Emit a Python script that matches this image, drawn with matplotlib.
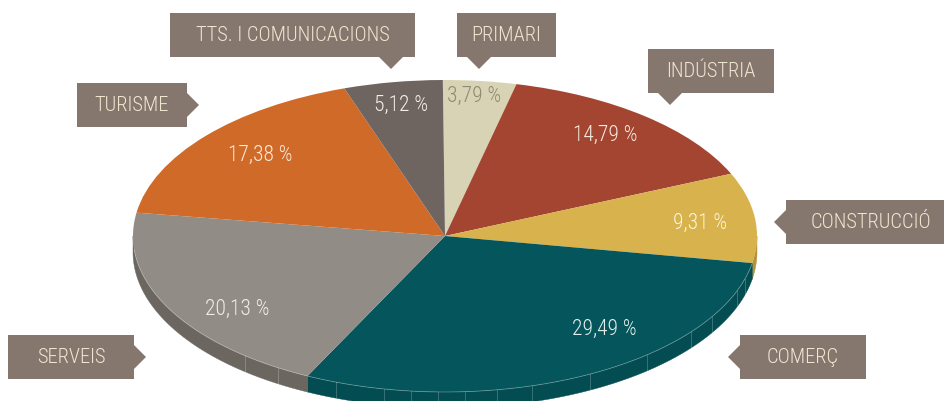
import numpy as np
import matplotlib
matplotlib.use("Agg")
import matplotlib.pyplot as plt
from matplotlib.patches import Polygon

plt.rcParams["font.family"] = ["Roboto Condensed", "DejaVu Sans"]
plt.rcParams["font.weight"] = 300

# Slices, clockwise from the top
sectors = ["PRIMARI", "INDÚSTRIA", "CONSTRUCCIÓ", "COMERÇ", "SERVEIS", "TURISME", "TTS. I COMUNICACIONS"]
shares = [3.79, 14.79, 9.31, 29.49, 20.13, 17.38, 5.12]
top_colors = ["#D8D3B4", "#A34531", "#D8B24C", "#05565C", "#928C87", "#CF6A28", "#6F6560"]
side_colors = ["#B8B393", "#85361F", "#B3923B", "#024C52", "#6C6661", "#A85520", "#5A514C"]
pct_colors = ["#8F8A72", "#F5EBE0", "#FBF3DC", "#E4EEEA", "#F0EDE6", "#FBEBDC", "#F3EEE6"]

# Layout in picture pixels
W, H = 945, 401
cx, cy, rx, ry, depth = 445, 236, 312, 156, 16
start = 90.4
pct_pos = [(474, 96), (605, 135), (700, 223), (604, 329), (237, 309), (260, 155), (401, 105)]
side_ticks = [245, 278, 336, 384, 411, 438, 465, 497, 532, 590, 647, 691, 712, 737, 745]

# box: x0, y0, x1, y1, then pointer side and tip position along it
boxes = {
    "PRIMARI": (457, 13, 556, 57, "down", 479),
    "INDÚSTRIA": (648, 49, 774, 93, "down", 670),
    "CONSTRUCCIÓ": (786, 200, 956, 244, "left", 222),
    "COMERÇ": (740, 335, 866, 379, "left", 357),
    "SERVEIS": (8, 335, 134, 379, "right", 357),
    "TURISME": (77, 83, 187, 127, "right", 105),
    "TTS. I COMUNICACIONS": (170, 13, 415, 57, "down", 391),
}
box_color = "#85766E"
box_text = "#EFE6CF"

fig = plt.figure(figsize=(W / 100, H / 100), dpi=100)
ax = fig.add_axes([0, 0, 1, 1])

# Side wall of the disc, only the front half shows
edges = np.cumsum([0] + shares) * 3.6 + (90 - start)
dy = depth / ry
for i in range(len(shares)):
    a0, a1 = max(edges[i], 90), min(edges[i + 1], 270)
    if a0 >= a1:
        continue
    t = np.radians(np.linspace(a0, a1, 80))
    xs = np.sin(t)
    ys = np.cos(t)
    pts = np.r_[np.c_[xs, ys], np.c_[xs[::-1], ys[::-1] - dy]]
    ax.add_patch(Polygon(pts, closed=True, fc=side_colors[i], ec=side_colors[i], lw=0.3))

# Top face
ax.pie(shares, colors=top_colors, startangle=start, counterclock=False, radius=1,
       wedgeprops={"linewidth": 0.3, "edgecolor": "none"})
ax.set_aspect("auto")
ax.set_xlim(-cx / rx, (W - cx) / rx)
ax.set_ylim(-(H - cy) / ry, cy / ry)

# Thin light lines on the wall
for px in side_ticks:
    u = (px - cx) / rx
    y = -np.sqrt(1 - u ** 2)
    ax.plot([u, u], [y, y - dy], color="#FFFFFF", alpha=0.22, lw=0.7)
t = np.radians(np.linspace(100, 265, 300))
ax.plot(np.sin(t), np.cos(t), color="#FFFFFF", alpha=0.3, lw=0.6)

# Overlay in pixel coordinates for the labels
ov = fig.add_axes([0, 0, 1, 1], facecolor="none")
ov.set_xlim(0, W)
ov.set_ylim(H, 0)
ov.axis("off")

for name, (x0, y0, x1, y1, side, tip) in boxes.items():
    if side == "down":
        pts = [(x0, y0), (x1, y0), (x1, y1), (tip + 12, y1), (tip, y1 + 12), (tip - 12, y1), (x0, y1)]
    elif side == "right":
        pts = [(x0, y0), (x1, y0), (x1, tip - 12), (x1 + 12, tip), (x1, tip + 12), (x1, y1), (x0, y1)]
    else:
        pts = [(x0, y0), (x1, y0), (x1, y1), (x0, y1), (x0, tip + 12), (x0 - 12, tip), (x0, tip - 12)]
    ov.add_patch(Polygon(pts, closed=True, fc=box_color, ec="none"))
    ov.text((x0 + x1) / 2, (y0 + y1) / 2 + 0.5, name, color=box_text,
            fontsize=14.8, ha="center", va="center")

for val, (x, y), col in zip(shares, pct_pos, pct_colors):
    ov.text(x, y, f"{val:.2f} %".replace(".", ","), color=col, fontsize=15.5, ha="center", va="center")

fig.savefig("out.png", dpi=100)
